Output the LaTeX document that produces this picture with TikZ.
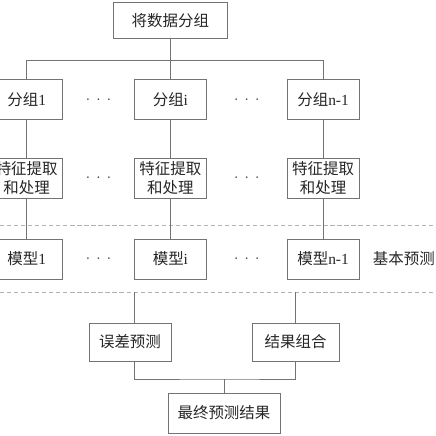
\documentclass[tikz,border=0pt]{standalone}
\usepackage{fontspec}
\setmainfont{Liberation Serif}
\newfontfamily\cjk{Noto Sans CJK SC}
\usetikzlibrary{positioning,calc}
\newcommand\threedots{${\cdot}\hspace{4.5pt}{\cdot}\hspace{4.5pt}{\cdot}$}

\begin{document}
\begin{tikzpicture}[
  font=\fontsize{11}{13.5}\selectfont\cjk,
  box/.style={draw=black!55, rectangle, align=center, text=black!85, minimum width=1.8cm, minimum height=1.0cm, inner sep=1pt, line width=0.5pt},
  line/.style={draw=black!55, line width=0.5pt},
  sepline/.style={draw=black!30, densely dashed, line width=0.5pt},
  dots/.style={text=black!80, inner sep=0pt}
]
\useasboundingbox (0,0) rectangle (10.9,-10.9);

% separators
\draw[sepline] (0,-5.625) -- (10.9,-5.625);
\draw[sepline] (0,-7.3) -- (10.9,-7.3);

\node[box, minimum width=2.83cm, minimum height=0.88cm] (split) at (4.26,-0.51) {将数据分组};

\node[box, below=1.025cm of split] (gi) {分组\textrm{i}};
\node[box, left=1.775cm of gi] (g1) {分组\textrm{1}};
\node[box, right=2.0cm of gi] (gn) {分组\textrm{n-1}};

\node[box, below=0.95cm of g1] (f1) {特征提取\\和处理};
\node[box, below=0.95cm of gi] (fi) {特征提取\\和处理};
\node[box, below=0.95cm of gn] (fn) {特征提取\\和处理};

\node[box, below=1.0cm of f1] (m1) {模型\textrm{1}};
\node[box, below=1.0cm of fi] (mi) {模型\textrm{i}};
\node[box, below=1.0cm of fn] (mn) {模型\textrm{n-1}};
\node[text=black!85, inner sep=0pt, right=0.33cm of mn] (basic) {基本预测};

\node[dots] (dg1) at ($(g1.east)!0.5!(gi.west)$) {\threedots};
\node[dots] (dg2) at ($(gi.east)!0.5!(gn.west)$) {\threedots};
\node[dots] (df1) at ($(f1.east)!0.5!(fi.west)$) {\threedots};
\node[dots] (df2) at ($(fi.east)!0.5!(fn.west)$) {\threedots};
\node[dots] (dm1) at ($(m1.east)!0.5!(mi.west)$) {\threedots};
\node[dots] (dm2) at ($(mi.east)!0.5!(mn.west)$) {\threedots};

\node[box, minimum width=2.05cm, minimum height=0.95cm] (err) at (3.25,-8.55) {误差预测};
\node[box, minimum width=2.18cm, minimum height=0.95cm] (res) at (7.39,-8.55) {结果组合};
\node[box, minimum width=2.8cm] (final) at (5.6,-10.325) {最终预测结果};

\coordinate (fork) at ($(split.south)+(0,-0.55)$);
\coordinate (errin) at (3.35,-7.3);
\coordinate (resin) at (7.39,-7.3);
\coordinate (join) at (5.6,-9.475);

\draw[line] (split) -- (gi);
\draw[line] (g1) |- (fork) -| (gn);
\draw[line] (g1) -- (f1);
\draw[line] (gi) -- (fi);
\draw[line] (gn) -- (fn);
\draw[line] (f1) -- (m1);
\draw[line] (fi) -- (mi);
\draw[line] (fn) -- (mn);
\draw[line] (errin) -- (errin |- err.north);
\draw[line] (resin) -- (res);
\draw[line] (errin |- err.south) |- (join) -| (res);
\draw[line] (join) -- (final);
\end{tikzpicture}
\end{document}
